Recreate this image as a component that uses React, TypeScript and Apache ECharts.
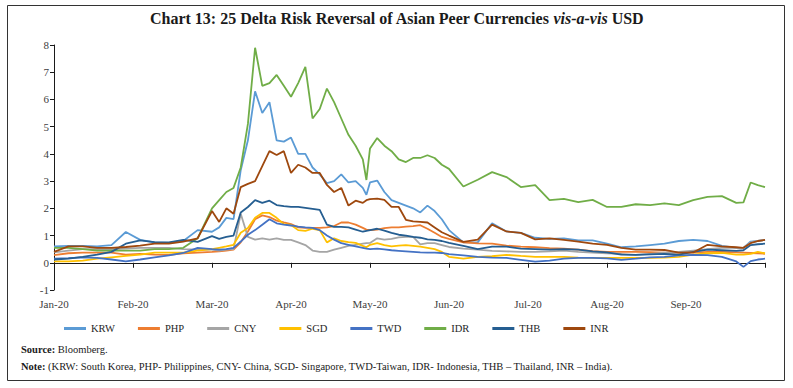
import React, { useEffect, useRef } from 'react';
import * as echarts from 'echarts';

// trading-day index (22 trading days per month label)
const tradingDay = [
  0, 4, 8, 12, 16, 20, 24, 28, 32, 36, 40, 44,
  46, 48, 50, 52, 54, 56, 58, 60, 62, 64, 66, 68, 70, 72, 74, 76, 78, 80, 82, 84, 86,
  87,
  88, 90, 92, 94, 96, 98, 100, 102, 104, 106, 108, 110,
  114, 118, 122, 126, 130, 134, 138, 142, 146, 150, 154, 158, 162, 166, 170, 174, 178, 182, 186, 190,
  192, 194, 196, 198,
];

const monthLabels = ['Jan-20', 'Feb-20', 'Mar-20', 'Apr-20', 'May-20', 'Jun-20', 'Jul-20', 'Aug-20', 'Sep-20'];

const KRW = [
  0.6, 0.62, 0.62, 0.6, 0.65, 1.13, 0.84, 0.75, 0.73, 0.8, 1.2, 1.14,
  1.3, 1.65, 1.6, 3.4, 4.5, 6.3, 5.5, 5.9, 4.5, 4.45, 4.6, 4.0, 4.0, 3.5, 3.25, 2.93, 3.0, 3.25, 2.95, 3.0, 2.75,
  2.5,
  2.95, 3.02, 2.6, 2.3, 2.2, 2.1, 2.0, 1.85, 2.1, 1.9, 1.6, 1.2,
  0.75, 0.75, 1.45, 1.15, 1.1, 0.92, 0.88, 0.9, 0.82, 0.82, 0.7, 0.57, 0.6, 0.65, 0.7, 0.8, 0.84, 0.8, 0.62, 0.55,
  0.55, 0.78, 0.8, 0.84,
];

const PHP = [
  0.28, 0.35, 0.37, 0.37, 0.37, 0.3, 0.33, 0.3, 0.29, 0.35, 0.37, 0.4,
  0.42, 0.45, 0.48, 0.75, 1.15, 1.6, 1.74, 1.68, 1.55, 1.48, 1.42, 1.3, 1.28, 1.28, 1.28, 1.3, 1.35, 1.48, 1.48, 1.4, 1.28,
  1.22,
  1.2, 1.22, 1.27, 1.3, 1.3, 1.33, 1.35, 1.38, 1.25, 1.1, 0.95, 0.88,
  0.75, 0.71, 0.7, 0.63, 0.59, 0.57, 0.54, 0.52, 0.48, 0.43, 0.4, 0.4, 0.4, 0.39, 0.37, 0.37, 0.37, 0.4, 0.4, 0.38,
  0.37, 0.36, 0.35, 0.33,
];

const CNY = [
  0.38, 0.45, 0.5, 0.5, 0.5, 0.52, 0.55, 0.55, 0.55, 0.5, 0.48, 0.48,
  0.45, 0.48, 0.5, 1.8, 0.95, 0.85, 0.9, 0.85, 0.9, 0.84, 0.84, 0.75, 0.65, 0.45, 0.4, 0.4, 0.48, 0.55, 0.62, 0.66, 0.7,
  0.72,
  0.73, 0.9, 0.85, 0.88, 0.93, 0.95, 0.95, 0.68, 0.72, 0.72, 0.65, 0.58,
  0.52, 0.48, 0.44, 0.42, 0.4, 0.4, 0.42, 0.45, 0.4, 0.37, 0.35, 0.33, 0.29, 0.33, 0.37, 0.4, 0.45, 0.5, 0.55, 0.55,
  0.55, 0.75, 0.8, 0.84,
];

const SGD = [
  0.05, 0.05, 0.08, 0.15, 0.2, 0.25, 0.3, 0.37, 0.37, 0.37, 0.45, 0.5,
  0.55, 0.6, 0.66, 1.1, 1.28, 1.65, 1.83, 1.83, 1.65, 1.42, 1.39, 1.2, 1.17, 1.25, 1.2, 0.75, 0.9, 0.8, 0.76, 0.73, 0.62,
  0.57,
  0.66, 0.72, 0.65, 0.6, 0.63, 0.65, 0.62, 0.59, 0.55, 0.5, 0.4, 0.22,
  0.15, 0.22, 0.24, 0.29, 0.25, 0.22, 0.22, 0.22, 0.19, 0.18, 0.18, 0.18, 0.18, 0.18, 0.19, 0.22, 0.3, 0.35, 0.36, 0.3,
  0.3, 0.33, 0.4, 0.35,
];

const TWD = [
  0.15, 0.17, 0.2, 0.18, 0.12, 0.05, 0.12, 0.2, 0.27, 0.36, 0.55, 0.5,
  0.48, 0.5, 0.55, 0.78, 1.03, 1.2, 1.4, 1.6, 1.45, 1.4, 1.37, 1.33, 1.3, 1.28, 1.2, 1.0, 0.85, 0.72, 0.66, 0.6, 0.55,
  0.52,
  0.5, 0.52, 0.49, 0.46, 0.44, 0.42, 0.4, 0.38, 0.37, 0.37, 0.36, 0.32,
  0.27, 0.22, 0.19, 0.18, 0.11, 0.04, 0.08, 0.15, 0.18, 0.18, 0.16, 0.11, 0.15, 0.2, 0.22, 0.27, 0.29, 0.28, 0.22, 0.05,
  -0.15, 0.06, 0.12, 0.15,
];

const IDR = [
  0.55, 0.55, 0.5, 0.45, 0.45, 0.45, 0.45, 0.5, 0.5, 0.55, 0.9, 2.0,
  2.3, 2.6, 2.75, 3.5, 5.1, 7.9, 6.5, 6.6, 6.9, 6.5, 6.1, 6.6, 7.2, 5.3, 5.65, 6.4, 5.9, 5.3, 4.7, 4.3, 3.8,
  3.04,
  4.2, 4.58, 4.3, 4.1, 3.8, 3.7, 3.85, 3.85, 3.95, 3.85, 3.6, 3.45,
  2.8, 3.05, 3.33, 3.15, 2.78, 2.85, 2.3, 2.35, 2.23, 2.31, 2.05, 2.05, 2.15, 2.12, 2.18, 2.12, 2.3, 2.42, 2.45, 2.2,
  2.22, 2.95, 2.85, 2.78,
];

const THB = [
  0.12, 0.15, 0.22, 0.3, 0.4, 0.7, 0.82, 0.76, 0.75, 0.84, 0.77, 0.98,
  0.88, 0.95, 1.0, 1.85, 2.05, 2.3, 2.2, 2.28, 2.12, 2.08, 2.05, 2.05, 2.02, 1.98, 1.94, 1.4, 1.32, 1.32, 1.3, 1.22, 1.14,
  1.17,
  1.2, 1.25, 1.18, 1.1, 1.03, 1.0, 0.95, 0.92, 0.86, 0.84, 0.8, 0.73,
  0.62, 0.5, 0.59, 0.59, 0.52, 0.5, 0.48, 0.5, 0.48, 0.42, 0.38, 0.3, 0.29, 0.31, 0.33, 0.3, 0.4, 0.48, 0.46, 0.44,
  0.46, 0.65, 0.68, 0.7,
];

const INR = [
  0.4, 0.6, 0.6, 0.55, 0.55, 0.58, 0.63, 0.7, 0.7, 0.78, 0.9, 1.9,
  1.5, 2.0, 1.8, 2.78, 2.9, 3.0, 3.55, 4.1, 3.96, 4.1, 3.3, 3.6, 3.5, 3.3, 3.3, 2.86, 2.6, 2.75, 2.1, 2.28, 2.2,
  2.3,
  2.34, 2.36, 2.31, 2.05, 2.05, 1.58, 1.52, 1.5, 1.48, 1.3, 1.12, 1.0,
  0.77, 0.85, 1.4, 1.15, 1.1, 0.86, 0.9, 0.84, 0.78, 0.7, 0.66, 0.55, 0.48, 0.48, 0.47, 0.37, 0.38, 0.66, 0.6, 0.57,
  0.55, 0.72, 0.8, 0.84,
];

const seriesNames = ['KRW', 'PHP', 'CNY', 'SGD', 'TWD', 'IDR', 'THB', 'INR'];
const seriesValues = [KRW, PHP, CNY, SGD, TWD, IDR, THB, INR];
const seriesColors = ['#5B9BD5', '#ED7D31', '#A5A5A5', '#FFC000', '#4472C4', '#70AD47', '#255E91', '#9E480E'];

const FONT = '"Liberation Serif", "DejaVu Serif", serif';

export default function App() {
  const ref = useRef<HTMLDivElement>(null);

  useEffect(() => {
    const chart = echarts.init(ref.current as HTMLDivElement, null, { renderer: 'svg' });
    const series = seriesNames.map((name, k) => ({
      type: 'line',
      name,
      data: tradingDay.map((d, i) => [d, seriesValues[k][i]]),
      symbol: 'none',
      xAxisIndex: 0,
      yAxisIndex: 0,
      lineStyle: { width: 1.8, color: seriesColors[k] },
      itemStyle: { color: seriesColors[k] },
    }));

    chart.setOption({
      animation: false,
      backgroundColor: '#ffffff',
      title: {
        left: 'center',
        top: 5,
        text: '{a|Chart 13: 25 Delta Risk Reversal of Asian Peer Currencies }{b|vis-a-vis}{a| USD}',
        textStyle: {
          rich: {
            a: { fontFamily: FONT, fontSize: 16, fontWeight: 'bold', color: '#1a1a1a' },
            b: { fontFamily: FONT, fontSize: 16, fontWeight: 'bold', fontStyle: 'italic', color: '#1a1a1a' },
          },
        },
      },
      grid: { left: 54, right: 28, top: 45, bottom: 98, containLabel: false },
      legend: {
        data: seriesNames,
        left: 59,
        top: 318,
        icon: 'rect',
        itemWidth: 22,
        itemHeight: 3,
        itemGap: 23,
        formatter: '{w|{name}}',
        textStyle: {
          fontFamily: FONT,
          fontSize: 10.5,
          color: '#262626',
          rich: { w: { width: 40, fontFamily: FONT, fontSize: 10.5, color: '#262626' } },
        },
      },
      xAxis: [
        {
          type: 'value',
          min: 0,
          max: 198,
          interval: 22,
          axisLine: { show: true, onZero: true, lineStyle: { color: '#1a1a1a', width: 1 } },
          axisTick: { show: true, length: 5, lineStyle: { color: '#1a1a1a' } },
          axisLabel: { show: false },
          splitLine: { show: false },
        },
        {
          type: 'value',
          min: 0,
          max: 198,
          interval: 22,
          position: 'bottom',
          axisLine: { show: false, onZero: false },
          axisTick: { show: false },
          splitLine: { show: false },
          axisLabel: {
            show: true,
            margin: 8,
            fontFamily: FONT,
            fontSize: 11,
            color: '#404040',
            formatter: (v: number) => monthLabels[Math.round(v / 22)] || '',
          },
        },
      ],
      yAxis: {
        type: 'value',
        min: -1,
        max: 8,
        interval: 1,
        axisLine: { show: true, lineStyle: { color: '#1a1a1a', width: 1 } },
        axisTick: { show: true, length: 4, lineStyle: { color: '#1a1a1a' } },
        splitLine: { show: false },
        axisLabel: { fontFamily: FONT, fontSize: 11, color: '#404040', margin: 5 },
      },
      graphic: [
        {
          type: 'rect',
          shape: { x: 7.5, y: 5.5, width: 777, height: 375 },
          style: { fill: 'none', stroke: '#333333', lineWidth: 1 },
          silent: true,
        },
        {
          type: 'text',
          x: 21,
          y: 349,
          style: {
            text: '{b|Source:} Bloomberg.',
            font: '10.5px "Liberation Serif", serif',
            fill: '#1a1a1a',
            verticalAlign: 'middle',
            rich: { b: { fontWeight: 'bold', fontFamily: FONT, fontSize: 10.5 } },
          },
        },
        {
          type: 'text',
          x: 21,
          y: 366,
          style: {
            text: '{b|Note:} (KRW: South Korea, PHP- Philippines, CNY- China, SGD- Singapore, TWD-Taiwan, IDR- Indonesia, THB \u2013 Thailand, INR \u2013 India).',
            font: '10.5px "Liberation Serif", serif',
            fill: '#1a1a1a',
            verticalAlign: 'middle',
            rich: { b: { fontWeight: 'bold', fontFamily: FONT, fontSize: 10.5 } },
          },
        },
      ],
      series,
    });

    return () => chart.dispose();
  }, []);

  return (
    <div
      ref={ref}
      style={{ position: 'fixed', left: 0, top: 0, width: 793, height: 388, background: '#fff' }}
    />
  );
}
